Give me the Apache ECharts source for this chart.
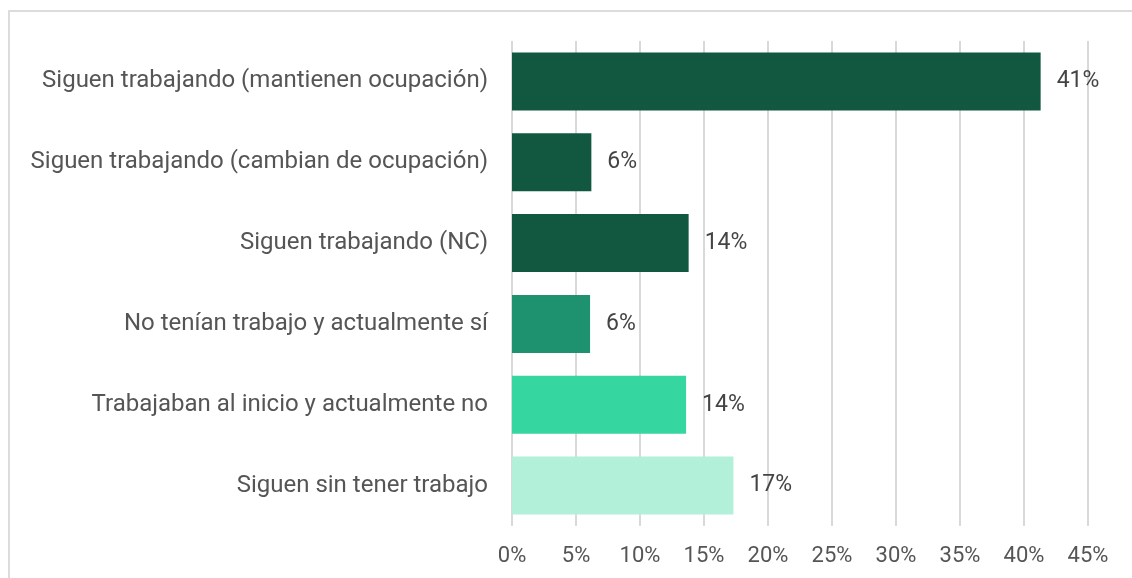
<!DOCTYPE html>
<html>
<head>
<meta charset="utf-8">
<script src="https://cdn.jsdelivr.net/npm/echarts@6/dist/echarts.min.js"></script>
<style>
  html, body { margin: 0; padding: 0; background: #fff; }
  #chart { width: 1132px; height: 578px; }
</style>
</head>
<body>
<div id="chart"></div>
<script>
  var categories = [
    'Siguen trabajando (mantienen ocupación)',
    'Siguen trabajando (cambian de ocupación)',
    'Siguen trabajando (NC)',
    'No tenían trabajo y actualmente sí',
    'Trabajaban al inicio y actualmente no',
    'Siguen sin tener trabajo'
  ];
  var values = [41.3, 6.2, 13.8, 6.1, 13.6, 17.3];
  var colors = ['#125840', '#125840', '#125840', '#1e926e', '#36d6a1', '#b2f0da'];

  var myChart = echarts.init(document.getElementById('chart'));
  var option = {
    backgroundColor: '#fff',
    animation: false,
    graphic: [{
      type: 'rect',
      shape: { x: 9, y: 11, width: 1200, height: 700 },
      style: { fill: 'none', stroke: '#dcdcdc', lineWidth: 2 },
      silent: true
    }],
    grid: { left: 512, right: 44, top: 41, bottom: 52, containLabel: false },
    xAxis: {
      type: 'value',
      min: 0,
      max: 45,
      interval: 5,
      axisLine: { show: false },
      axisTick: { show: false },
      splitLine: { lineStyle: { color: '#d9d9d9', width: 2 } },
      axisLabel: {
        formatter: '{value}%',
        fontFamily: 'Roboto',
        fontSize: 22,
        color: '#555',
        margin: 19
      }
    },
    yAxis: {
      type: 'category',
      data: categories,
      inverse: true,
      axisLine: { show: false },
      axisTick: { show: false },
      axisLabel: {
        fontFamily: 'Roboto',
        fontSize: 24,
        color: '#555',
        margin: 24
      }
    },
    series: [{
      type: 'bar',
      barWidth: 58,
      data: values.map(function (v, i) {
        return { value: v, itemStyle: { color: colors[i] } };
      }),
      label: {
        show: true,
        position: 'right',
        distance: 16,
        fontFamily: 'Roboto',
        fontSize: 23,
        color: '#444',
        formatter: function (p) { return Math.round(p.value) + '%'; }
      }
    }]
  };
  myChart.setOption(option, true);
</script>
</body>
</html>
